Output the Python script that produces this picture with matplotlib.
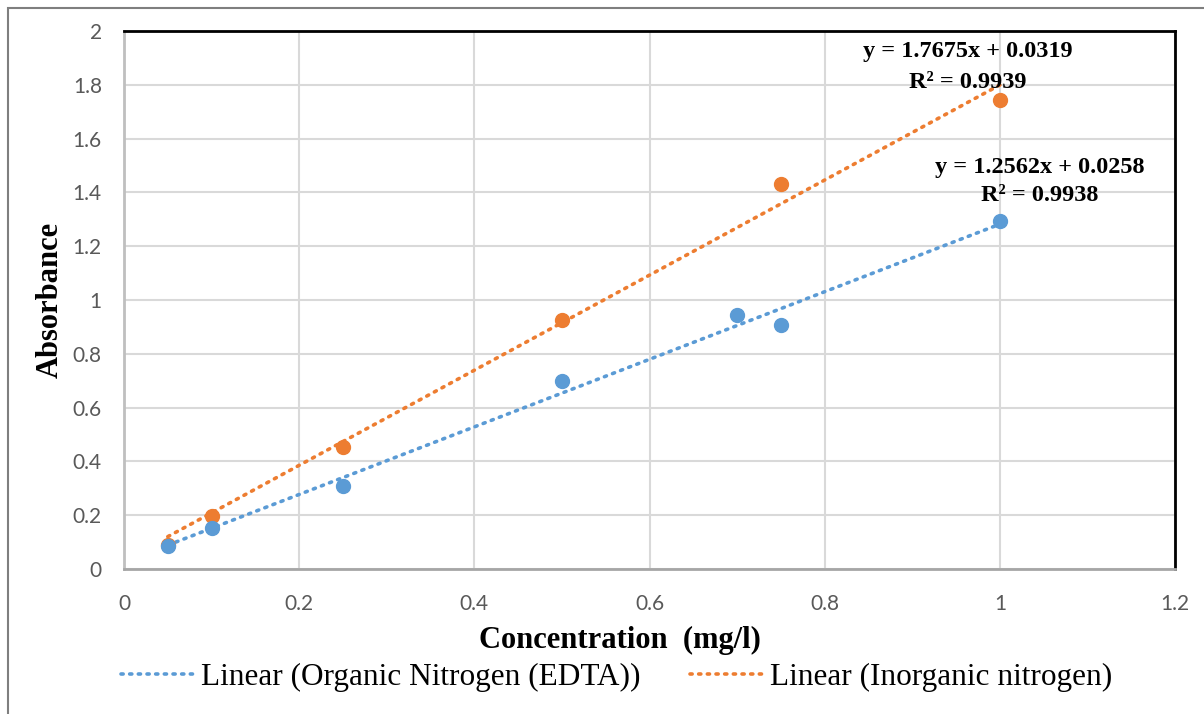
import numpy as np
import matplotlib.pyplot as plt
from matplotlib.patches import Rectangle

# data
org_x = [0.05, 0.1, 0.25, 0.5, 0.7, 0.75, 1.0]
org_y = [0.085, 0.152, 0.309, 0.699, 0.943, 0.907, 1.294]
inorg_x = [0.05, 0.1, 0.25, 0.5, 0.75, 1.0]
inorg_y = [0.09, 0.197, 0.454, 0.926, 1.431, 1.743]

org_fit = (1.2562, 0.0258, 0.9938)
inorg_fit = (1.7675, 0.0319, 0.9939)

blue = '#5B9BD5'
orange = '#ED7D31'
serif = 'Liberation Serif'

fig = plt.figure(figsize=(12.04, 7.14), dpi=100)
fig.patches.append(Rectangle((8 / 1204, -0.01), 1.2, 1 - 8 / 714 + 0.01,
                             transform=fig.transFigure, fill=False,
                             edgecolor='#7f7f7f', linewidth=1.5))
ax = fig.add_axes([124 / 1204, 1 - 569 / 714, 1051 / 1204, 538 / 714])

dots = (0, (0.6, 1.8))

# trendlines
xs = np.array([min(inorg_x), max(inorg_x)])
ax.plot(xs, inorg_fit[0] * xs + inorg_fit[1], color=orange, lw=2.6,
        linestyle=dots, dash_capstyle='round', zorder=3,
        label='Linear (Inorganic nitrogen)')
xs = np.array([min(org_x), max(org_x)])
ax.plot(xs, org_fit[0] * xs + org_fit[1], color=blue, lw=2.6,
        linestyle=dots, dash_capstyle='round', zorder=3,
        label='Linear (Organic Nitrogen (EDTA))')

ax.plot(inorg_x, inorg_y, 'o', color=orange, ms=10, zorder=4)
ax.plot(org_x, org_y, 'o', color=blue, ms=10, zorder=5)

ax.set_xlim(0, 1.2)
ax.set_ylim(0, 2)
ax.set_xticks(np.arange(0, 1.21, 0.2))
ax.set_yticks(np.arange(0, 2.01, 0.2))
ax.set_xticklabels(['0', '0.2', '0.4', '0.6', '0.8', '1', '1.2'])
ax.set_yticklabels(['0', '0.2', '0.4', '0.6', '0.8', '1', '1.2', '1.4',
                    '1.6', '1.8', '2'])
ax.tick_params(length=0, labelsize=15, labelcolor='#595959')
ax.tick_params(axis='x', pad=18)
ax.tick_params(axis='y', pad=16)
for lab in ax.get_xticklabels() + ax.get_yticklabels():
    lab.set_family('Lato')
ax.grid(True, color='#d9d9d9', lw=1.5)
ax.set_axisbelow(True)

ax.spines['top'].set_color('black')
ax.spines['right'].set_color('black')
ax.spines['top'].set_linewidth(2)
ax.spines['right'].set_linewidth(2)
ax.spines['left'].set_color('#bfbfbf')
ax.spines['bottom'].set_color('#a6a6a6')
ax.spines['left'].set_linewidth(2)
ax.spines['bottom'].set_linewidth(2)

ax.set_xlabel('Concentration  (mg/l)', family=serif, fontweight='bold',
              fontsize=22)
ax.xaxis.set_label_coords(0.472, -0.105)
ax.set_ylabel('Absorbance', family=serif, fontweight='bold', fontsize=22,
              labelpad=6)

# trendline equations, one text per line
for (cx, y1, y2), fit in [((0.9635, 1.922, 1.810), inorg_fit),
                          ((1.046, 1.491, 1.387), org_fit)]:
    ax.text(cx, y1, 'y = %.4fx + %.4f' % fit[:2], family=serif,
            fontweight='bold', fontsize=17.5, ha='center', va='center',
            zorder=6)
    ax.text(cx, y2, 'R² = %.4f' % fit[2], family=serif,
            fontweight='bold', fontsize=17.5, ha='center', va='center',
            zorder=6)

h, l = ax.get_legend_handles_labels()
fig.legend(h[::-1], l[::-1], loc='center', bbox_to_anchor=(0.512, 1 - 677 / 714),
           ncol=2, frameon=False, prop={'family': serif, 'size': 22.5},
           handlelength=2.3, handletextpad=0.25, columnspacing=1.6)

fig.savefig('out.png', dpi=100)
